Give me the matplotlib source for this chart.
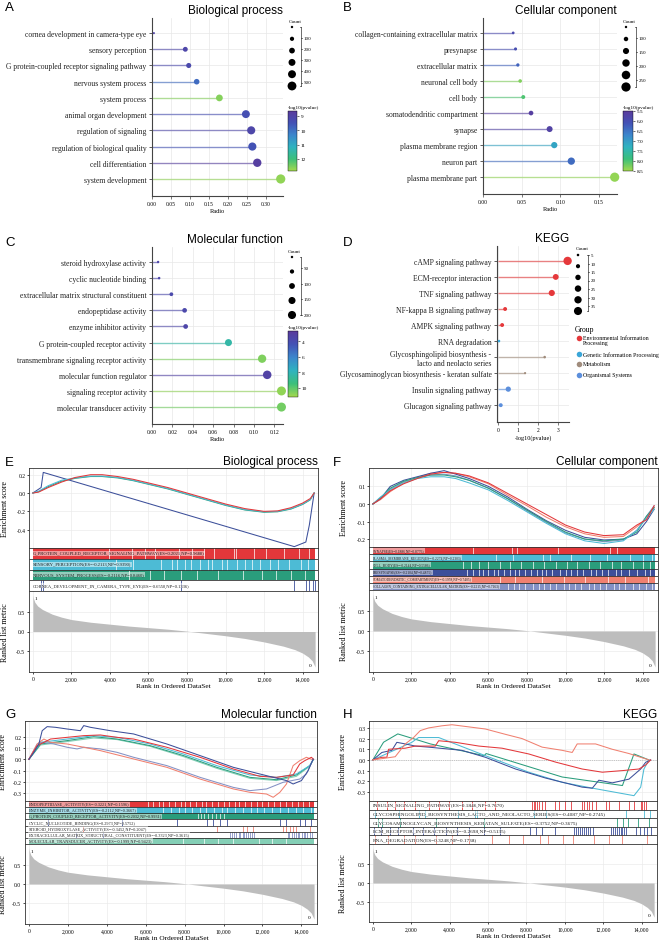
import numpy as np
import matplotlib
matplotlib.use("Agg")
import matplotlib.pyplot as plt
from matplotlib.colors import LinearSegmentedColormap, Normalize
from matplotlib.cm import ScalarMappable
from matplotlib.ticker import FuncFormatter, FormatStrFormatter

SERIF = "Liberation Serif"
SANS = "Liberation Sans"
plt.rcParams["font.family"] = SERIF
plt.rcParams["axes.unicode_minus"] = False

# ---------------- data: GO / KEGG dot plots ----------------
bp_terms = ["cornea development in camera-type eye", "sensory perception",
            "G protein-coupled receptor signaling pathway", "nervous system process",
            "system process", "animal organ development", "regulation of signaling",
            "regulation of biological quality", "cell differentiation", "system development"]
bp_ratio = [0.005, 0.088, 0.097, 0.118, 0.178, 0.248, 0.262, 0.265, 0.278, 0.340]
bp_count = [8, 140, 155, 190, 285, 400, 420, 425, 445, 545]
bp_logp = [9.0, 9.1, 9.2, 9.9, 12.6, 9.4, 9.1, 9.5, 8.8, 12.7]

cc_terms = ["collagen-containing extracellular matrix", "presynapse", "extracellular matrix",
            "neuronal cell body", "cell body", "somatodendritic compartment", "synapse",
            "plasma membrane region", "neuron part", "plasma membrane part"]
cc_ratio = [0.039, 0.042, 0.045, 0.048, 0.052, 0.062, 0.086, 0.092, 0.114, 0.170]
cc_count = [65, 70, 75, 80, 88, 105, 145, 155, 195, 285]
cc_logp = [5.9, 6.0, 6.3, 8.3, 8.0, 5.6, 5.7, 7.1, 6.4, 8.4]

mf_terms = ["steroid hydroxylase activity", "cyclic nucleotide binding",
            "extracellular matrix structural constituent", "endopeptidase activity",
            "enzyme inhibitor activity", "G protein-coupled receptor activity",
            "transmembrane signaling receptor activity", "molecular function regulator",
            "signaling receptor activity", "molecular transducer activity"]
mf_ratio = [0.006, 0.007, 0.019, 0.032, 0.033, 0.075, 0.108, 0.113, 0.127, 0.127]
mf_count = [12, 14, 38, 62, 64, 148, 210, 222, 248, 248]
mf_logp = [3.6, 3.6, 3.8, 3.7, 3.6, 8.4, 10.6, 3.3, 10.9, 10.4]

kegg_terms = ["cAMP signaling pathway", "ECM-receptor interaction", "TNF signaling pathway",
              "NF-kappa B signaling pathway", "AMPK signaling pathway", "RNA degradation",
              "Glycosphingolipid biosynthesis -\nlacto and neolacto series",
              "Glycosaminoglycan biosynthesis - keratan sulfate",
              "Insulin signaling pathway", "Glucagon signaling pathway"]
kegg_logp = [3.50, 2.90, 2.70, 0.34, 0.19, 0.03, 2.34, 1.35, 0.50, 0.12]
kegg_count = [40, 20, 22, 9, 9, 4, 4, 3, 16, 9]
kegg_group = ["Environmental Information Processing"] * 5 + [
    "Genetic Information Processing", "Metabolism", "Metabolism",
    "Organismal Systems", "Organismal Systems"]
group_names = ["Environmental Information Processing", "Genetic Information Processing",
               "Metabolism", "Organismal Systems"]
group_labels = ["Environmental Information\nProcessing", "Genetic Information Processing",
                "Metabolism", "Organismal Systems"]
group_cols = ["#e5383b", "#3aa6d8", "#a08c7c", "#5c8fdc"]

# ---------------- data: GSEA ----------------
metric_rank = [0, 30, 100, 250, 500, 1000, 1500, 2000, 3000, 4000, 5000, 6000, 7000, 8000,
               9000, 10000, 11000, 12000, 13000, 13600, 14000, 14300, 14500, 14650]
metric_val = [0.95, 0.86, 0.76, 0.66, 0.57, 0.45, 0.37, 0.31, 0.24, 0.19, 0.14, 0.10, 0.06,
              0.01, -0.05, -0.11, -0.18, -0.27, -0.38, -0.47, -0.56, -0.66, -0.76, -0.92]
n_genes = 14650

# E: biological process
e_rank = [0, 300, 800, 1500, 2200, 3000, 3600, 4400, 5200, 6000, 7000, 8000, 9000, 10000,
          11000, 12000, 12700, 13400, 14000, 14400, 14600]
e_gpcr = [0, 0.01, 0.06, 0.12, 0.17, 0.2, 0.2, 0.18, 0.15, 0.11, 0.06, 0.0, -0.06, -0.12,
          -0.17, -0.2, -0.195, -0.16, -0.11, -0.06, 0.0]
e_sens = [0, 0.02, 0.08, 0.14, 0.165, 0.185, 0.185, 0.17, 0.14, 0.1, 0.05, -0.01, -0.07,
          -0.13, -0.18, -0.205, -0.2, -0.17, -0.12, -0.07, 0.0]
e_nerv = [0, 0.015, 0.07, 0.13, 0.16, 0.18, 0.18, 0.165, 0.135, 0.095, 0.045, -0.015,
          -0.075, -0.135, -0.185, -0.21, -0.205, -0.175, -0.125, -0.075, 0.0]
e_corn_rank = [0, 430, 540, 13570, 14170, 14350, 14600]
e_corn = [0, 0.06, 0.225, -0.585, -0.535, -0.35, 0.0]
e_gpcr_gaps = [3950, 5150, 5800, 6350, 7600, 8250, 8900, 9420, 10460, 10540, 11490, 12100,
               13050, 13800, 14350]
e_sens_gaps = [4300, 5200, 6650, 7200, 7500, 7900, 8200, 8700, 9100, 9300, 9800, 10100,
               10600, 11000, 11400, 11800, 12300, 12700, 13300, 13900, 14300]
e_nerv_gaps = [5000, 6100, 6800, 7700, 8500, 9600, 10900, 11900, 12600, 13400, 14100]
e_corn_hits = [430, 520, 7700, 13570, 14170, 14350, 14520, 14640]
e_labels = ["G_PROTEIN_COUPLED_RECEPTOR_SIGNALING_PATHWAY(ES=0.2021,NP=0.9688)",
            "SENSORY_PERCEPTION(ES=-0.2113,NP=0.9390)",
            "NERVOUS_SYSTEM_PROCESS(ES=-0.2116,NP=0.8460)",
            "CORNEA_DEVELOPMENT_IN_CAMERA_TYPE_EYE(ES=-0.6550,NP=0.1336)"]

# F: cellular component
f_rank = [0, 400, 900, 1600, 2300, 3000, 3700, 4300, 5000, 6000, 7000, 8000, 9000, 10000,
          11000, 12000, 13000, 13700, 14200, 14600]
f_syn = [0, 0.03, 0.075, 0.115, 0.145, 0.17, 0.18, 0.175, 0.16, 0.12, 0.06, 0.0, -0.06,
         -0.12, -0.16, -0.18, -0.175, -0.12, -0.09, -0.01]
f_pmr = [0, 0.04, 0.08, 0.12, 0.145, 0.155, 0.155, 0.145, 0.12, 0.08, 0.02, -0.045, -0.11,
         -0.17, -0.21, -0.225, -0.21, -0.15, -0.08, -0.03]
f_body = [0, 0.035, 0.09, 0.13, 0.15, 0.165, 0.165, 0.155, 0.135, 0.09, 0.03, -0.035, -0.1,
          -0.16, -0.2, -0.21, -0.2, -0.16, -0.07, -0.02]
f_pre = [0, 0.03, 0.1, 0.135, 0.155, 0.175, 0.19, 0.17, 0.145, 0.1, 0.04, -0.03, -0.095,
         -0.15, -0.19, -0.205, -0.2, -0.17, -0.1, -0.03]
f_soma = [0, 0.025, 0.07, 0.12, 0.15, 0.175, 0.18, 0.175, 0.155, 0.115, 0.05, -0.01, -0.075,
          -0.13, -0.17, -0.19, -0.185, -0.13, -0.08, -0.02]
f_coll = [0, 0.035, 0.085, 0.125, 0.15, 0.165, 0.17, 0.16, 0.135, 0.09, 0.03, -0.04, -0.105,
          -0.165, -0.2, -0.215, -0.205, -0.15, -0.07, -0.01]
f_syn_gaps = [5220, 7210, 7470, 9600, 12300, 12650]
f_pmr_gaps = [6400, 7290, 8850, 9190, 10300, 11270, 12130, 13340, 14030, 14470]
f_body_gaps = [4700, 5100, 5500, 6000, 6600, 7100, 7700, 8300, 8900, 9500, 10100, 10600,
               11200, 11800, 12400, 12900, 13500, 14000, 14400]
f_pre_gaps = [4900, 5200, 5500, 5700, 6000, 6300, 6500, 6800, 7100, 7400, 7600, 7900, 8200,
              8500, 8800, 9000, 9300, 9700, 10000, 10300, 10600, 10900, 11300, 11600, 11900,
              12200, 12600, 12900, 13300, 13700, 14100, 14400]
f_soma_gaps = [6600, 7400, 8800, 9900, 11000, 12200, 13100, 14300]
f_coll_gaps = [7000, 7300, 7600, 7900, 8300, 8600, 8900, 9200, 9500, 9900, 10200, 10500,
               10800, 11200, 11500, 11800, 12100, 12500, 12800, 13100, 13500, 13800, 14200,
               14500]
f_labels = ["SYNAPSE(ES=0.1886,NP=0.8776)", "PLASMA_MEMBRANE_REGION(ES=-0.2274,NP=0.2303)",
            "CELL_BODY(ES=-0.2144,NP=0.5586)", "PRESYNAPSE(ES=-0.2104,NP=0.4875)",
            "SOMATODENDRITIC_COMPARTMENT(ES=-0.1958,NP=0.7405)",
            "COLLAGEN_CONTAINING_EXTRACELLULAR_MATRIX(ES=-0.2215,NP=0.7163)"]

# G: molecular function
g_cyc_rank = [0, 256, 512, 683, 939, 1366, 1963, 2646, 2817, 3159, 4183, 5378, 7086, 8793,
              10500, 12208, 13232, 13573, 14000, 14342, 14598]
g_cyc = [0, 0.062, 0.136, 0.254, 0.29, 0.284, 0.269, 0.254, 0.299, 0.284, 0.254, 0.225,
         0.136, 0.033, -0.071, -0.145, -0.189, -0.219, -0.189, -0.101, 0]
g_ecm_rank = [0, 427, 683, 1280, 1963, 2476, 2817, 3671, 4524, 5378, 7086, 8793, 10500, 11354,
              12208, 13061, 13915, 14257, 14598]
g_ecm = [0, 0.136, 0.151, 0.136, 0.107, 0.092, 0.107, 0.092, 0.062, 0.018, -0.056, -0.16,
         -0.249, -0.278, -0.263, -0.204, -0.175, -0.13, 0]
g_ster_rank = [0, 427, 768, 1110, 1963, 2817, 3671, 5378, 7086, 8793, 10500, 11354, 12208,
               12550, 12891, 13232, 13573, 13915, 14257, 14513]
g_ster = [0, 0.136, 0.18, 0.151, 0.136, 0.107, 0.077, 0.003, -0.071, -0.175, -0.263, -0.293,
          -0.308, -0.337, -0.293, -0.219, -0.056, -0.012, 0.018, 0]
g_endo_rank = [0, 427, 1110, 1963, 2817, 3671, 4524, 5378, 7086, 8793, 10500, 11866, 12720,
               13573, 13915, 14171, 14513, 14620]
g_endo = [0, 0.121, 0.18, 0.195, 0.21, 0.216, 0.195, 0.18, 0.107, 0.018, -0.086, -0.151,
          -0.16, -0.139, -0.041, -0.012, 0.018, 0]
g_rank = [0, 598, 1963, 3329, 4524, 6232, 7939, 9647, 11354, 12720, 13744, 14427, 14620]
g_enz = [0, 0.151, 0.18, 0.21, 0.195, 0.136, 0.047, -0.056, -0.139, -0.16, -0.13, -0.056, 0]
g_gpcr = [0, 0.136, 0.166, 0.201, 0.18, 0.121, 0.033, -0.071, -0.16, -0.181, -0.139, -0.056, 0]
g_mt = [0, 0.127, 0.157, 0.189, 0.175, 0.115, 0.024, -0.08, -0.169, -0.189, -0.151, -0.062, 0]
g_endo_gaps = [6100, 6400, 6700, 6900, 7200, 7500, 7800, 8000, 8300, 8600, 8900, 9100, 9400,
               9700, 10000, 10300, 10600, 10800, 11100, 11400, 11700, 12000, 12300, 12600,
               12900, 13200, 13500, 13800, 14100, 14400]
g_enz_gaps = [6900, 7300, 7700, 8000, 8400, 8800, 9100, 9500, 9900, 10200, 10600, 11000,
              11400, 11700, 12100, 12500, 12900, 13300, 13700, 14100, 14500]
g_gpcr_gaps = [8700, 8850, 9000, 9200, 9400, 9600, 9800, 10000]
g_cyc_hits = [1000, 4800, 7600, 9130, 9475, 9820, 10160, 12890, 13230, 13915, 14170, 14510]
g_ster_hits = [2800, 9650, 11010, 11180, 11520, 13060, 13230, 13400, 13570, 13740, 14430]
g_ecm_hits = [2400, 3800, 10330, 10420, 10560, 10640, 10770, 10850, 10980, 11050, 11170,
              11240, 11380, 11460, 11550, 13300, 13380, 13520, 13610, 13700, 13830, 13900,
              14010, 14120, 14190, 14300, 14420, 14520]
g_mt_gaps = [7900, 9000, 9700, 10500, 11800, 12500, 13200]
g_labels = ["ENDOPEPTIDASE_ACTIVITY(ES=-0.3221,NP=0.1596)",
            "ENZYME_INHIBITOR_ACTIVITY(ES=-0.2112,NP=0.3667)",
            "G_PROTEIN_COUPLED_RECEPTOR_ACTIVITY(ES=0.2032,NP=0.9931)",
            "CYCLIC_NUCLEOTIDE_BINDING(ES=0.2973,NP=0.5752)",
            "STEROID_HYDROXYLASE_ACTIVITY(ES=-0.3452,NP=0.2047)",
            "EXTRACELLULAR_MATRIX_STRUCTURAL_CONSTITUENT(ES=-0.3323,NP=0.3615)",
            "MOLECULAR_TRANSDUCER_ACTIVITY(ES=-0.1999,NP=0.9423)"]

# H: KEGG
h_rna_rank = [0, 1165, 1687, 2122, 2470, 2904, 3600, 4122, 4991, 5861, 6904, 7774, 8817,
              9861, 10383, 10643, 11600, 12470, 13339, 14383]
h_rna = [0, 0.03, 0.15, 0.21, 0.275, 0.3, 0.32, 0.33, 0.31, 0.29, 0.24, 0.2, 0.12, 0.09,
         0.07, 0.15, 0.15, 0.1, 0.06, 0.0]
h_ins_rank = [0, 470, 730, 820, 1687, 2210, 3250, 3430, 4310, 5520, 6730, 8120, 9510, 10900,
              11950, 13000, 13860, 14210, 14470]
h_ins = [0, 0.025, 0.025, 0.1, 0.11, 0.13, 0.13, 0.18, 0.165, 0.13, 0.11, 0.056, -0.02,
         -0.085, -0.115, -0.1, -0.085, -0.047, 0]
h_ecm_rank = [0, 470, 990, 1250, 1690, 2210, 2900, 4640, 5860, 7430, 9000, 10900, 11430,
              11770, 12470, 13340, 13950, 14210, 14470]
h_ecm = [0, 0.07, 0.09, 0.165, 0.15, 0.13, 0.12, 0.09, 0.025, -0.085, -0.17, -0.255, -0.265,
         -0.19, -0.215, -0.18, -0.085, -0.022, 0]
h_gsl_rank = [0, 2030, 2380, 3430, 5860, 8120, 9860, 11600, 13600, 13950, 14120, 14380]
h_gsl = [0, 0.165, 0.21, 0.21, 0.04, -0.115, -0.21, -0.27, -0.335, -0.255, -0.085, 0]
h_gag_rank = [0, 557, 1300, 3000, 5800, 5900, 9860, 13000, 13600, 14380]
h_gag = [0, 0.166, 0.244, 0.15, 0.04, 0.06, -0.16, -0.24, 0.056, 0]
h_ins_hits = [210, 730, 1165, 1600, 2210, 2900, 3430, 3950, 4640, 5170, 5860, 6380, 8300,
              8380, 8470, 8560, 8680, 8820, 8990, 9510, 9690, 10030, 10300, 10900, 10990,
              11170, 11250, 11430, 11600, 12120, 12300, 12820, 13340, 13600, 13950, 14030,
              14120, 14210]
h_gsl_hits = [90, 1350, 2400, 2700, 4450, 5300, 5450, 8400, 9000, 13200, 14100, 14450]
h_gag_hits = [250, 500, 1400, 3300, 5800, 12700, 13050, 13300, 13800, 14400]
h_ecm_hits = [60, 450, 900, 1300, 2100, 2600, 3200, 3800, 4400, 5000, 5800, 6600, 8200, 8500,
              8800, 9500, 10500, 10600, 10700, 10800, 10900, 11000, 11100, 11200, 11300,
              11450, 12400, 12500, 12600, 12700, 12800, 12900, 13000, 13100, 13200, 13700,
              13900, 14100, 14300, 14500]
h_rna_hits = [100, 800, 1600, 2200, 3300, 4100, 5000, 6200, 7100, 7800, 8700, 9100, 9900,
              10400, 11500, 12300, 13000, 14300]
h_labels = ["INSULIN_SIGNALING_PATHWAY(ES=0.1846,NP=0.7670)",
            "GLYCOSPHINGOLIPID_BIOSYNTHESIS_LACTO_AND_NEOLACTO_SERIES(ES=-0.4087,NP=0.2745)",
            "GLYCOSAMINOGLYCAN_BIOSYNTHESIS_KERATAN_SULFATE(ES=-0.3752,NP=0.3675)",
            "ECM_RECEPTOR_INTERACTION(ES=-0.2698,NP=0.5135)",
            "RNA_DEGRADATION(ES=0.3248,NP=0.1738)"]

# ---------------- styles ----------------
RED, CYAN, GREEN, NAVY = "#e3373a", "#4dbbd5", "#2a9d7c", "#3c4f9a"
SALMON, PERI, MINT = "#f08070", "#8491c4", "#84cfb6"
cmap_go = LinearSegmentedColormap.from_list(
    "go", ["#5a3b9c", "#4352b5", "#3c86cc", "#2fb3bf", "#3cbf7a", "#a3d94e"])

W, H = 664, 945
fig = plt.figure(figsize=(W / 100, H / 100), dpi=100)


def box(l, t, r, b):
    return [l / W, 1 - b / H, (r - l) / W, (b - t) / H]


def size_map(c, lo, hi, smin, smax):
    c = np.asarray(c, dtype=float)
    return smin + (c - lo) / (hi - lo) * (smax - smin)


def dot_panel(px, terms, xs, colors, sizes, xlim, xticks, fmt, xlabel, title):
    ax = fig.add_axes(box(*px))
    n = len(terms)
    ys = np.arange(n)[::-1]
    for y, x, c in zip(ys, xs, colors):
        ax.plot([0, x], [y, y], color=c, lw=1.0, alpha=0.6, zorder=2, solid_capstyle="butt")
    ax.scatter(xs, ys, s=sizes, c=colors, zorder=3, linewidths=0, clip_on=False)
    ax.set_xlim(*xlim)
    ax.set_ylim(-1.05, n - 0.07)
    ax.set_yticks(ys)
    ax.set_yticklabels(terms, fontsize=5.5, color="#222222")
    ax.set_xticks(xticks)
    ax.xaxis.set_major_formatter(FuncFormatter(lambda v, p: fmt.format(v)))
    ax.tick_params(axis="x", labelsize=4, length=2, width=0.5, pad=1.5, color="#444444")
    ax.tick_params(axis="y", length=2.5, width=0.6, pad=1.5, color="#444444")
    ax.set_xlabel(xlabel, fontsize=4.5, labelpad=1.5)
    ax.grid(color="#e8e8e8", lw=0.5)
    ax.set_axisbelow(True)
    for s in ["top", "right"]:
        ax.spines[s].set_visible(False)
    for s in ["left", "bottom"]:
        ax.spines[s].set_color("#444444")
        ax.spines[s].set_linewidth(0.8)
    ax.text(1.0, 1.012, title, transform=ax.transAxes, ha="right", va="bottom",
            family=SANS, fontsize=8.5)
    return ax


def go_colorbar(px, norm, ticks):
    cax = fig.add_axes(box(*px))
    cb = fig.colorbar(ScalarMappable(norm=norm, cmap=cmap_go), cax=cax)
    cax.invert_yaxis()
    cb.set_ticks(ticks)
    cb.ax.tick_params(labelsize=3.8, length=1.5, width=0.4, pad=1)
    cb.outline.set_linewidth(0.3)
    cax.text(0, 1.03, "-log10(pvalue)", transform=cax.transAxes, fontsize=3.8,
             va="bottom", ha="left")


def size_legend(ov, title_xy, dot_x, dot_y, dot_counts, sizes_fn, bar_x, lab_y, labels):
    ov.text(title_xy[0], title_xy[1], "Count", fontsize=3.8, va="center", ha="left")
    ys = np.linspace(dot_y[0], dot_y[1], len(dot_counts))
    ov.scatter(np.full(len(ys), dot_x), ys, s=sizes_fn(dot_counts), c="black",
               linewidths=0, clip_on=False)
    ov.plot([bar_x, bar_x], [dot_y[0], dot_y[1]], color="#333333", lw=0.5)
    ov.plot([bar_x - 1.2, bar_x], [dot_y[0], dot_y[0]], color="#333333", lw=0.5)
    ov.plot([bar_x - 1.2, bar_x], [dot_y[1], dot_y[1]], color="#333333", lw=0.5)
    for y, lab in zip(np.linspace(lab_y[0], lab_y[1], len(labels)), labels):
        ov.plot([bar_x, bar_x + 1.2], [y, y], color="#333333", lw=0.5)
        ov.text(bar_x + 2.5, y, lab, fontsize=3.6, va="center", ha="left")


XLIM = (-200, 14800)


def gsea_panel(l, r, t, b_es, b_band, b_rank, title, curves, es_ylim, es_ticks, sets,
               label_fs, ylab_px, zero_line=False):
    lab_x = (ylab_px - l) / (r - l)
    es = fig.add_axes(box(l, t, r, b_es))
    if zero_line:
        es.axhline(0, color="#999999", lw=0.5, ls=":")
    for rk, val, col in curves:
        es.plot(rk, val, color=col, lw=0.75)
    es.set_xlim(*XLIM)
    es.set_ylim(*es_ylim)
    es.set_yticks(es_ticks)
    es.yaxis.set_major_formatter(FormatStrFormatter("%.1f"))
    es.set_xticks(range(0, 14001, 2000))
    es.tick_params(axis="x", labelbottom=False, length=0)
    es.tick_params(axis="y", labelsize=4, length=1.5, width=0.5, pad=1)
    es.set_ylabel("Enrichment score", fontsize=5.8)
    es.yaxis.set_label_coords(lab_x, 0.5)
    es.grid(color="#ebebeb", lw=0.5)
    es.set_axisbelow(True)
    es.text(1.0, 1.01, title, transform=es.transAxes, ha="right", va="bottom",
            family=SANS, fontsize=8.5)

    bd = fig.add_axes(box(l, b_es, r, b_band))
    n = len(sets)
    bd.set_xlim(*XLIM)
    bd.set_ylim(n, 0)
    for i, (lab, col, kind, pos) in enumerate(sets):
        if kind == "band":
            bd.fill_between([0, n_genes], i, i + 1, color=col, lw=0)
            bd.vlines(pos, i, i + 1, color="white", lw=0.5)
        else:
            bd.vlines(pos, i, i + 1, color=col, lw=0.6)
        bd.text(0, i + 0.5, lab, fontsize=label_fs, va="center", ha="left", color="#222222",
                bbox=dict(fc="white", alpha=0.5, ec="none", pad=0.3))
    bd.hlines(range(1, n), XLIM[0], XLIM[1], color="#333333", lw=0.6)
    bd.set_xticks([])
    bd.set_yticks([])

    rk = fig.add_axes(box(l, b_band, r, b_rank))
    rk.fill_between(metric_rank, metric_val, 0, color="#bdbdbd", lw=0)
    rk.set_xlim(*XLIM)
    rk.set_ylim(-1.05, 1.05)
    rk.set_yticks([-0.5, 0.0, 0.5])
    rk.yaxis.set_major_formatter(FormatStrFormatter("%.1f"))
    rk.set_xticks(range(0, 14001, 2000))
    rk.xaxis.set_major_formatter(FuncFormatter(lambda v, p: f"{int(v):,}"))
    rk.tick_params(labelsize=4, length=1.5, width=0.5, pad=1.5)
    rk.set_xlabel("Rank in Ordered DataSet", fontsize=5.3, labelpad=1)
    rk.set_ylabel("Ranked list metric", fontsize=5.8)
    rk.yaxis.set_label_coords(lab_x, 0.5)
    rk.grid(color="#ebebeb", lw=0.5)
    rk.set_axisbelow(True)
    rk.text(metric_rank[2], metric_val[2] + 0.1, "1", fontsize=3.8, ha="left", va="center")
    rk.text(metric_rank[-3], metric_val[-1] + 0.05, "0", fontsize=3.8, ha="left", va="center")
    for ax in (es, bd, rk):
        for s in ax.spines.values():
            s.set_color("#333333")
            s.set_linewidth(0.6)


# ---------------- A ----------------
norm_bp = Normalize(8.65, 12.85)
bp_size = lambda c: size_map(c, 8, 545, 2, 44)
dot_panel((152, 19, 283, 197), bp_terms, bp_ratio, cmap_go(norm_bp(bp_logp)),
          bp_size(bp_count), (0, 0.346), np.arange(0, 0.31, 0.05), "{:.2f}", "Radio",
          "Biological process")
go_colorbar((288, 112, 297, 172), norm_bp, [9, 10, 11, 12])

# ---------------- B ----------------
norm_cc = Normalize(5.5, 8.5)
cc_size = lambda c: size_map(c, 60, 285, 3, 44)
dot_panel((483, 19, 617, 195), cc_terms, cc_ratio, cmap_go(norm_cc(cc_logp)),
          cc_size(cc_count), (0, 0.173), [0, 0.05, 0.10, 0.15], "{:.2f}", "Radio",
          "Cellular component")
go_colorbar((623, 112, 633, 172), norm_cc, [5.5, 6.0, 6.5, 7.0, 7.5, 8.0, 8.5])

# ---------------- C ----------------
norm_mf = Normalize(2.7, 11.2)
mf_size = lambda c: size_map(c, 12, 248, 3, 42)
dot_panel((152, 248, 283, 425), mf_terms, mf_ratio, cmap_go(norm_mf(mf_logp)),
          mf_size(mf_count), (0, 0.1285), np.arange(0, 0.121, 0.02), "{:.2f}", "Radio",
          "Molecular function")
go_colorbar((288, 332, 298, 398), norm_mf, [4, 6, 8, 10])

# ---------------- D ----------------
kegg_size = lambda c: size_map(c, 3, 40, 2.5, 36)
kcols = [group_cols[group_names.index(g)] for g in kegg_group]
dot_panel((497, 247, 569, 423), kegg_terms, kegg_logp, kcols, kegg_size(kegg_count),
          (-0.07, 3.57), [0, 1, 2, 3], "{:.0f}", "-log10(pvalue)", "KEGG")

# ---------------- E-H ----------------
gsea_panel(29, 318, 469, 549, 592, 673, "Biological process",
           [(e_corn_rank, e_corn, NAVY), (e_rank, e_nerv, GREEN), (e_rank, e_sens, CYAN),
            (e_rank, e_gpcr, RED)],
           (-0.6, 0.273), [-0.4, -0.2, 0.0, 0.2],
           [(e_labels[0], RED, "band", e_gpcr_gaps), (e_labels[1], CYAN, "band", e_sens_gaps),
            (e_labels[2], GREEN, "band", e_nerv_gaps), (e_labels[3], NAVY, "hits", e_corn_hits)],
           3.3, 9)

gsea_panel(369, 658, 469, 548, 591, 673, "Cellular component",
           [(f_rank, f_coll, PERI), (f_rank, f_soma, SALMON), (f_rank, f_pre, NAVY),
            (f_rank, f_body, GREEN), (f_rank, f_pmr, CYAN), (f_rank, f_syn, RED)],
           (-0.245, 0.205), [-0.2, -0.1, 0.0, 0.1],
           [(f_labels[0], RED, "band", f_syn_gaps), (f_labels[1], CYAN, "band", f_pmr_gaps),
            (f_labels[2], GREEN, "band", f_body_gaps), (f_labels[3], NAVY, "band", f_pre_gaps),
            (f_labels[4], SALMON, "band", f_soma_gaps), (f_labels[5], PERI, "band", f_coll_gaps)],
           2.6, 348)

gsea_panel(25, 317, 722, 802, 845, 925, "Molecular function",
           [(g_rank, g_mt, MINT), (g_rank, g_gpcr, GREEN), (g_rank, g_enz, CYAN),
            (g_ecm_rank, g_ecm, PERI), (g_ster_rank, g_ster, SALMON),
            (g_endo_rank, g_endo, RED), (g_cyc_rank, g_cyc, NAVY)],
           (-0.37, 0.34), [-0.3, -0.2, -0.1, 0.0, 0.1, 0.2],
           [(g_labels[0], RED, "band", g_endo_gaps), (g_labels[1], CYAN, "band", g_enz_gaps),
            (g_labels[2], GREEN, "band", g_gpcr_gaps), (g_labels[3], NAVY, "hits", g_cyc_hits),
            (g_labels[4], SALMON, "hits", g_ster_hits), (g_labels[5], PERI, "hits", g_ecm_hits),
            (g_labels[6], MINT, "band", g_mt_gaps)],
           3.1, 7)

gsea_panel(369, 657, 722, 802, 845, 923, "KEGG",
           [(h_gag_rank, h_gag, GREEN), (h_gsl_rank, h_gsl, CYAN), (h_ecm_rank, h_ecm, NAVY),
            (h_ins_rank, h_ins, RED), (h_rna_rank, h_rna, SALMON)],
           (-0.385, 0.365), [-0.3, -0.2, -0.1, 0.0, 0.1, 0.2, 0.3],
           [(h_labels[0], RED, "hits", h_ins_hits), (h_labels[1], CYAN, "hits", h_gsl_hits),
            (h_labels[2], GREEN, "hits", h_gag_hits), (h_labels[3], NAVY, "hits", h_ecm_hits),
            (h_labels[4], SALMON, "hits", h_rna_hits)],
           3.8, 347, zero_line=True)

# ---------------- overlay: legends and panel letters ----------------
ov = fig.add_axes([0, 0, 1, 1])
ov.set_xlim(0, W)
ov.set_ylim(H, 0)
ov.axis("off")
ov.patch.set_visible(False)

size_legend(ov, (289, 22), 292, (28, 87), [20, 100, 200, 300, 400, 500], bp_size,
            301, (38.5, 83.5), ["100", "200", "300", "400", "500"])
size_legend(ov, (623, 22), 626, (28, 88), [60, 100, 150, 200, 250, 285], cc_size,
            636, (38.5, 81), ["100", "150", "200", "250"])
size_legend(ov, (288, 252), 292, (258, 316), [12, 50, 100, 150, 200], mf_size,
            301, (269, 316), ["50", "100", "150", "200"])
size_legend(ov, (576, 249), 578, (256, 312), [4, 10, 17, 24, 31, 38], kegg_size,
            588, (256, 307), ["5", "10", "15", "20", "25", "30", "35"])

ov.text(575, 330, "Group", fontsize=5.5, va="center", ha="left")
for gy, gl, gc in zip([339, 355, 365, 376], group_labels, group_cols):
    ov.scatter([579], [gy], s=16, c=gc, linewidths=0, clip_on=False)
    ov.text(583, gy - 3 if "\n" in gl else gy, gl, fontsize=4.2,
            va="top" if "\n" in gl else "center", ha="left", linespacing=0.9)

for letter, lx, ly in [("A", 5, 8), ("B", 343, 8), ("C", 5, 243), ("D", 343, 243),
                       ("E", 5, 463), ("F", 333, 463), ("G", 5, 715), ("H", 343, 715)]:
    ov.text(lx, ly, letter, family=SANS, fontsize=9.5, va="center", ha="left")

fig.savefig("out.png", dpi=100)
